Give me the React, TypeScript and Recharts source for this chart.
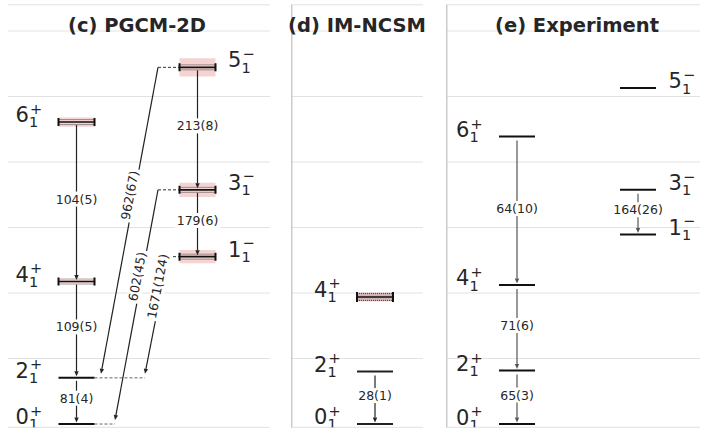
import React from "react";
import {
  ComposedChart,
  XAxis,
  YAxis,
  CartesianGrid,
  Scatter,
  ReferenceLine,
  ReferenceArea,
} from "recharts";

// energy axis (MeV)
const energyTicks = [0, 2, 4, 6, 8, 10, 12];
const energyDomain: [number, number] = [-0.1, 12.8];

type Level = { key: string; j: string; p: string; E: number; err: number };
type Trans = { from: string; to: string; label: string };

// (c) PGCM-2D
const pgcmLevels: Level[] = [
  { key: "0+", j: "0", p: "+", E: 0, err: 0 },
  { key: "2+", j: "2", p: "+", E: 1.41, err: 0 },
  { key: "4+", j: "4", p: "+", E: 4.35, err: 0.05 },
  { key: "6+", j: "6", p: "+", E: 9.22, err: 0.14 },
  { key: "1-", j: "1", p: "-", E: 5.11, err: 0.2 },
  { key: "3-", j: "3", p: "-", E: 7.15, err: 0.22 },
  { key: "5-", j: "5", p: "-", E: 10.89, err: 0.28 },
];
const pgcmInBand: Trans[] = [
  { from: "6+", to: "4+", label: "104(5)" },
  { from: "4+", to: "2+", label: "109(5)" },
  { from: "2+", to: "0+", label: "81(4)" },
  { from: "5-", to: "3-", label: "213(8)" },
  { from: "3-", to: "1-", label: "179(6)" },
];
const pgcmCross: Trans[] = [
  { from: "5-", to: "2+", label: "962(67)" },
  { from: "3-", to: "0+", label: "602(45)" },
  { from: "1-", to: "2+", label: "1671(124)" },
];
// where the cross-band lines start/end (panel x units) and where their labels sit
const pgcmCrossLayout = [
  { startX: 150, endX: 93, t: 0.42 },
  { startX: 150, endX: 107, t: 0.38 },
  { startX: 160, endX: 137, t: 0.26 },
];

// (d) IM-NCSM
const ncsmLevels: Level[] = [
  { key: "0+", j: "0", p: "+", E: 0, err: 0 },
  { key: "2+", j: "2", p: "+", E: 1.6, err: 0 },
  { key: "4+", j: "4", p: "+", E: 3.88, err: 0.13 },
];
const ncsmInBand: Trans[] = [{ from: "2+", to: "0+", label: "28(1)" }];

// (e) Experiment
const expLevels: Level[] = [
  { key: "0+", j: "0", p: "+", E: 0, err: 0 },
  { key: "2+", j: "2", p: "+", E: 1.634, err: 0 },
  { key: "4+", j: "4", p: "+", E: 4.248, err: 0 },
  { key: "6+", j: "6", p: "+", E: 8.777, err: 0 },
  { key: "1-", j: "1", p: "-", E: 5.788, err: 0 },
  { key: "3-", j: "3", p: "-", E: 7.156, err: 0 },
  { key: "5-", j: "5", p: "-", E: 10.262, err: 0 },
];
const expInBand: Trans[] = [
  { from: "6+", to: "4+", label: "64(10)" },
  { from: "4+", to: "2+", label: "71(6)" },
  { from: "2+", to: "0+", label: "65(3)" },
  { from: "3-", to: "1-", label: "164(26)" },
];

const TXT = "#262626";
const FONT = "DejaVu Sans, Verdana, sans-serif";
const HW = 18; // half width of a level bar
const H = 432;

type Kind = "calc" | "ncsm" | "exp";

function textW(s: string, fs: number) {
  let w = 0;
  for (const ch of s) w += ch === "(" || ch === ")" ? 0.39 : 0.636;
  return w * fs;
}

function arrow(xa: number, ya: number, xb: number, yb: number, color: string) {
  const dx = xb - xa;
  const dy = yb - ya;
  const L = Math.hypot(dx, dy) || 1;
  const ux = dx / L;
  const uy = dy / L;
  const hl = 5;
  const hw = 2.2;
  const bx = xb - ux * hl;
  const by = yb - uy * hl;
  const pts = `${xb},${yb} ${bx - uy * hw},${by + ux * hw} ${bx + uy * hw},${by - ux * hw}`;
  return (
    <g>
      <line x1={xa} y1={ya} x2={bx} y2={by} stroke={color} strokeWidth={1.2} />
      <polygon points={pts} fill={color} />
    </g>
  );
}

function makeLevelShape(kind: Kind) {
  return (props: any) => {
    const { cx, cy, payload } = props;
    if (cx == null || cy == null) return <g />;
    const x0 = cx - HW;
    const x1 = cx + HW;
    const detailed = payload.err > 0;
    const dOff = kind === "ncsm" ? 3.5 : 2.5;
    const lx = payload.p === "+" ? x0 - 43 : x1 + 12.5;
    const base = kind === "exp" ? cy + 0.5 : cy;
    return (
      <g>
        {detailed ? (
          <g>
            <line x1={x0} x2={x1} y1={cy - dOff} y2={cy - dOff} stroke="#444" strokeWidth={1} strokeDasharray="1 1" />
            <line x1={x0} x2={x1} y1={cy + dOff} y2={cy + dOff} stroke="#444" strokeWidth={1} strokeDasharray="1 1" />
            <line x1={x0} x2={x1} y1={cy} y2={cy} stroke="#111" strokeWidth={1.6} />
            <line x1={x0} x2={x0} y1={cy - dOff - 1.5} y2={cy + dOff + 1.5} stroke="#111" strokeWidth={2} />
            <line x1={x1} x2={x1} y1={cy - dOff - 1.5} y2={cy + dOff + 1.5} stroke="#111" strokeWidth={2} />
          </g>
        ) : (
          <line x1={x0} x2={x1} y1={cy} y2={cy} stroke={kind === "ncsm" ? "#222" : "#111"} strokeWidth={2} />
        )}
        <text x={lx} y={base} fontSize={21} fill={TXT} fontFamily={FONT}>
          <tspan>{payload.j}</tspan>
          <tspan x={lx + 13.5} y={base + 5.2} fontSize={14.5}>
            1
          </tspan>
          <tspan x={lx + 14.5} y={base - 8.5} fontSize={14.5}>
            {payload.p === "+" ? "+" : "\u2212"}
          </tspan>
        </text>
      </g>
    );
  };
}

function makeDropShape(label: string, color: string, gap: number) {
  return (props: any) => {
    const { x1, y1, x2, y2 } = props;
    if (x1 == null) return <g />;
    const sy = y1 + gap;
    const ty = y2 - 1.5;
    const midY = (sy + ty) / 2 - 3.5;
    const fs = 12.5;
    const w = textW(label, fs);
    return (
      <g>
        {arrow(x1, sy, x2, ty, color)}
        <rect x={x1 - w / 2 - 2} y={midY - 7.5} width={w + 4} height={15} fill="#fff" />
        <text x={x1} y={midY} textAnchor="middle" dominantBaseline="central" fontSize={fs} fill={TXT} fontFamily={FONT}>
          {label}
        </text>
      </g>
    );
  };
}

function makeSlantShape(label: string, t: number, color: string) {
  return (props: any) => {
    const { x1, y1, x2, y2 } = props;
    if (x1 == null) return <g />;
    const tx = x2;
    const ty = y2 - 4;
    const px = x1 + (tx - x1) * t;
    const py = y1 + (ty - y1) * t;
    const ang = (Math.atan2(y1 - ty, x1 - tx) * 180) / Math.PI;
    const fs = 12.5;
    const w = textW(label, fs);
    return (
      <g>
        {arrow(x1, y1, tx, ty, color)}
        <g transform={`translate(${px},${py}) rotate(${ang})`}>
          <rect x={-w / 2 - 2} y={-11} width={w + 4} height={14} fill="#fff" />
          <text x={0} y={0} textAnchor="middle" fontSize={fs} fill={TXT} fontFamily={FONT}>
            {label}
          </text>
        </g>
      </g>
    );
  };
}

type PanelProps = {
  left: number;
  width: number;
  kind: Kind;
  spine: boolean;
  colX: Record<string, number>;
  levels: Level[];
  inBand: Trans[];
  cross?: Trans[];
  crossLayout?: { startX: number; endX: number; t: number }[];
};

function Panel({ left, width, kind, spine, colX, levels, inBand, cross = [], crossLayout = [] }: PanelProps) {
  const byKey: Record<string, Level> = {};
  levels.forEach((l) => (byKey[l.key] = l));
  const points = levels.map((l) => ({ ...l, x: colX[l.p] }));
  const lineColor = kind === "exp" ? "#555" : "#222";
  const bandFill = kind === "ncsm" ? "#d2b4b4" : "#f4d3d3";

  // dashed extensions for the cross-band transitions
  const upperExt: Record<string, number> = {};
  const lowerExt: Record<string, number> = {};
  cross.forEach((c, i) => {
    const lay = crossLayout[i];
    upperExt[c.from] = Math.min(upperExt[c.from] ?? Infinity, lay.startX);
    lowerExt[c.to] = Math.max(lowerExt[c.to] ?? -Infinity, lay.endX);
  });

  return (
    <div style={{ position: "absolute", left, top: 0, width, height: H }}>
      <ComposedChart width={width} height={H} margin={{ top: 4.8, bottom: 4.7, left: 0, right: 0 }}>
        <XAxis type="number" dataKey="x" domain={[0, width]} hide allowDataOverflow />
        <YAxis type="number" domain={energyDomain} ticks={energyTicks} hide allowDataOverflow />
        <CartesianGrid vertical={false} stroke="#e2e2e2" strokeWidth={1} />
        {spine && (
          <ReferenceLine
            segment={[
              { x: 0, y: energyDomain[0] },
              { x: 0, y: energyDomain[1] },
            ]}
            stroke="#cccccc"
            strokeWidth={3}
            ifOverflow="visible"
          />
        )}
        {levels
          .filter((l) => l.err > 0)
          .map((l) => (
            <ReferenceArea
              key={"band" + l.key}
              x1={colX[l.p] - HW}
              x2={colX[l.p] + HW}
              y1={l.E - l.err}
              y2={l.E + l.err}
              fill={bandFill}
              fillOpacity={1}
              stroke="none"
              ifOverflow="visible"
            />
          ))}
        {Object.keys(upperExt).map((k) => (
          <ReferenceLine
            key={"ue" + k}
            segment={[
              { x: upperExt[k], y: byKey[k].E },
              { x: colX[byKey[k].p] - HW, y: byKey[k].E },
            ]}
            stroke="#333"
            strokeWidth={1}
            strokeDasharray="3 2"
            ifOverflow="visible"
          />
        ))}
        {Object.keys(lowerExt).map((k) => (
          <ReferenceLine
            key={"le" + k}
            segment={[
              { x: colX[byKey[k].p] + HW, y: byKey[k].E },
              { x: lowerExt[k], y: byKey[k].E },
            ]}
            stroke="#666"
            strokeWidth={1}
            strokeDasharray="3 2"
            ifOverflow="visible"
          />
        ))}
        {inBand.map((tr) => {
          const a = byKey[tr.from];
          const b = byKey[tr.to];
          return (
            <ReferenceLine
              key={"tr" + tr.from + tr.to}
              segment={[
                { x: colX[a.p], y: a.E },
                { x: colX[b.p], y: b.E },
              ]}
              ifOverflow="visible"
              shape={makeDropShape(tr.label, lineColor, kind === "calc" ? 3 : 4)}
            />
          );
        })}
        {cross.map((tr, i) => {
          const a = byKey[tr.from];
          const b = byKey[tr.to];
          const lay = crossLayout[i];
          return (
            <ReferenceLine
              key={"cr" + tr.from + tr.to}
              segment={[
                { x: lay.startX, y: a.E },
                { x: lay.endX, y: b.E },
              ]}
              ifOverflow="visible"
              shape={makeSlantShape(tr.label, lay.t, lineColor)}
            />
          );
        })}
        <Scatter data={points} dataKey="E" isAnimationActive={false} shape={makeLevelShape(kind)} />
      </ComposedChart>
    </div>
  );
}

const titles = [
  { text: "(c) PGCM-2D", x: 137 },
  { text: "(d) IM-NCSM", x: 357 },
  { text: "(e) Experiment", x: 577 },
];

export default function App() {
  return (
    <div style={{ position: "absolute", left: 0, top: 0, width: 702, height: H, background: "#fff", fontFamily: FONT }}>
      <Panel
        left={8}
        width={262}
        kind="calc"
        spine={false}
        colX={{ "+": 68.5, "-": 189.5 }}
        levels={pgcmLevels}
        inBand={pgcmInBand}
        cross={pgcmCross}
        crossLayout={pgcmCrossLayout}
      />
      <Panel left={291} width={132} kind="ncsm" spine colX={{ "+": 84, "-": 100 }} levels={ncsmLevels} inBand={ncsmInBand} />
      <Panel left={446} width={254} kind="exp" spine colX={{ "+": 71, "-": 192 }} levels={expLevels} inBand={expInBand} />
      <svg width={702} height={H} style={{ position: "absolute", left: 0, top: 0, pointerEvents: "none" }}>
        {titles.map((t) => (
          <text key={t.text} x={t.x} y={31.5} textAnchor="middle" fontSize={19.5} fontWeight="bold" fill={TXT} fontFamily={FONT}>
            {t.text}
          </text>
        ))}
      </svg>
    </div>
  );
}
